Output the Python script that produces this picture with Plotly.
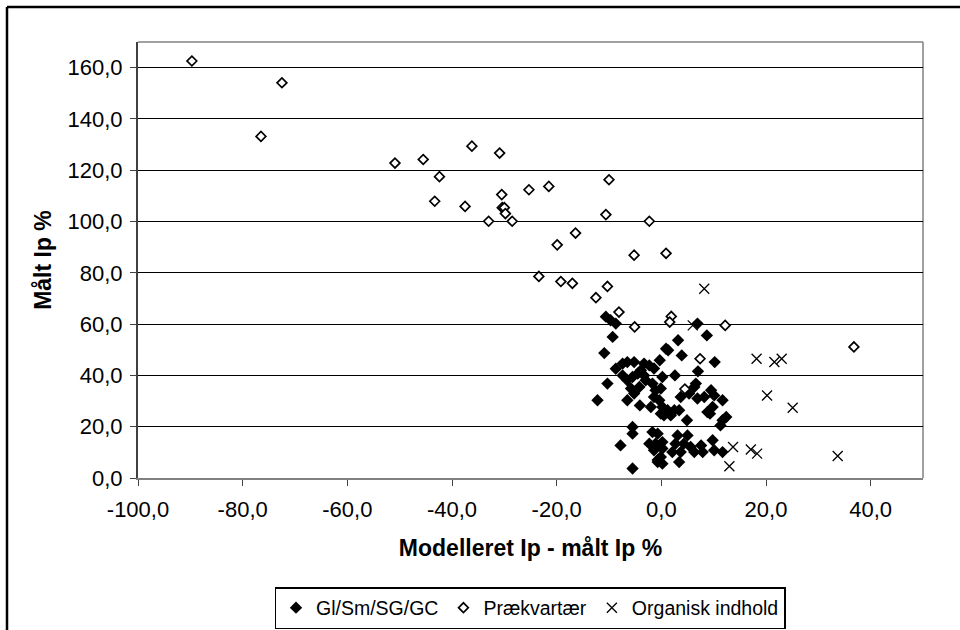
import plotly.graph_objects as go

# ---------------- data ----------------
gl_x = [-10.6, -9.7, -8.7, 6.9, -9.3, 8.7, 3.2, -10.9, 1.3, 0.9, 3.9, -0.3, 10.2, 7.0,
        -8.7, -7.4, -6.5, -5.2, -3.3, -2.3, -3.9, -1.4,
        -10.3, -12.2,
        -7.4, -6.5, -5.5, -4.5, -3.3, -3.0, 0.2, 2.6,
        -5.8, -5.2, -4.2, -6.5, -4.1,
        -1.7, -1.1, -0.1, -1.4, -0.4, 0.2, 1.2, 0.5, 1.8, 2.5, 3.4, -2.0, -0.1,
        4.9, 3.7, 5.3, 6.3, 6.9, 6.6,
        8.2, 9.5, 10.1, 11.7, 9.8, 8.8, 11.7, 12.4, 11.3, 9.3,
        -5.5, -5.5, -7.8, -5.5,
        -1.7, -0.7, -2.3, -1.1, 0.2, -1.4, 0.2, -0.7, 0.2, -0.1, 3.1, 5.0, 2.7, 4.3,
        5.6, 7.6, 6.3, 7.9, 3.4, 9.8, 10.1, 11.7, 2.1, 3.7, -0.7]
gl_y = [62.9, 61.5, 60.2, 60.2, 55.0, 55.6, 53.7, 48.7, 49.8, 50.4, 47.8, 45.9, 45.2, 41.6,
        42.6, 44.6, 45.2, 45.2, 44.6, 43.9, 42.0, 42.7,
        36.8, 30.3,
        40.0, 38.1, 39.4, 40.7, 40.0, 38.1, 39.4, 40.0,
        34.9, 32.9, 35.5, 30.3, 28.3,
        36.8, 34.2, 34.9, 31.6, 30.3, 27.7, 26.4, 24.4, 24.4, 26.4, 26.4, 27.7, 25.1,
        22.5, 31.6, 32.9, 35.5, 31.0, 36.8,
        31.6, 34.2, 32.2, 30.3, 27.7, 25.7, 22.5, 23.8, 20.5, 25.1,
        19.9, 17.3, 12.7, 3.7,
        17.9, 17.3, 13.4, 13.4, 14.0, 10.8, 11.5, 6.2, 5.6, 8.2, 16.6, 16.6, 13.4, 13.4,
        12.1, 12.7, 10.1, 10.1, 6.2, 14.7, 10.8, 10.1, 10.1, 10.1, 7.0]

pk_x = [-89.7, -72.5, -76.5, -50.9, -45.5, -36.2, -30.9, -42.4, -43.3, -37.5, -30.5,
        -30.4, -30.0, -29.8, -33.0, -28.5, -25.3, -21.5, -10.0, -10.6, -2.3, -16.4,
        -19.9, -5.2, 0.9, -23.4, -19.2, -17.0, -10.3, -12.5, -8.1, -5.1, 1.9, 1.6,
        12.2, 7.4, 4.5, 36.8]
pk_y = [162.6, 154.1, 133.2, 122.8, 124.2, 129.4, 126.7, 117.5, 107.9, 105.9, 110.5,
        105.4, 105.4, 103.1, 100.1, 100.1, 112.4, 113.7, 116.3, 102.7, 100.1, 95.5,
        90.9, 86.9, 87.6, 78.6, 76.6, 75.9, 74.7, 70.3, 64.7, 58.9, 63.0, 60.8,
        59.5, 46.5, 34.7, 51.1]

org_x = [8.2, 6.0, 18.2, 21.6, 23.0, 20.2, 25.1, 13.7, 17.1, 18.3, 13.0, 33.7]
org_y = [73.8, 59.5, 46.5, 45.2, 46.5, 32.2, 27.4, 12.1, 11.1, 9.5, 4.6, 8.6]

series_names = ["Gl/Sm/SG/GC", "Prækvartær", "Organisk indhold"]

x_tick_vals = [-100, -80, -60, -40, -20, 0, 20, 40]
x_tick_text = ["-100,0", "-80,0", "-60,0", "-40,0", "-20,0", "0,0", "20,0", "40,0"]
y_tick_vals = [0, 20, 40, 60, 80, 100, 120, 140, 160]
y_tick_text = ["0,0", "20,0", "40,0", "60,0", "80,0", "100,0", "120,0", "140,0", "160,0"]

x_title = "Modelleret Ip - målt Ip %"
y_title = "Målt Ip %"

# ---------------- figure ----------------
W, H = 960, 630
L, R, T, B = 138, 37, 42, 152
PW, PH = W - L - R, H - T - B
FONT = "Arial, 'Liberation Sans', sans-serif"

fig = go.Figure()
fig.add_trace(go.Scatter(
    x=gl_x, y=gl_y, mode="markers", name=series_names[0],
    marker=dict(symbol="diamond", size=9.5, color="black", line=dict(width=0))))
fig.add_trace(go.Scatter(
    x=pk_x, y=pk_y, mode="markers", name=series_names[1],
    marker=dict(symbol="diamond", size=7.5, color="white",
                line=dict(color="black", width=1.7))))
fig.add_trace(go.Scatter(
    x=org_x, y=org_y, mode="markers", name=series_names[2],
    marker=dict(symbol="x-thin", size=10, color="black",
                line=dict(color="black", width=1.3))))

# outer chart border (left and top edges visible in the window)
bx = (7 - L) / PW
by = 1 + (T - 7) / PH
shapes = [
    dict(type="line", xref="paper", yref="paper", x0=bx, x1=bx, y0=-1, y1=by,
         line=dict(color="black", width=2.5)),
    dict(type="line", xref="paper", yref="paper", x0=bx, x1=2, y0=by, y1=by,
         line=dict(color="black", width=2.5)),
    # plot-area border (top and right)
    dict(type="line", xref="paper", yref="paper", x0=0, x1=1, y0=1, y1=1,
         line=dict(color="#808080", width=1.5), layer="below"),
    dict(type="line", xref="paper", yref="paper", x0=1, x1=1, y0=0, y1=1,
         line=dict(color="#808080", width=1.5), layer="below"),
]

fig.update_layout(
    width=W, height=H,
    margin=dict(l=L, r=R, t=T, b=B, pad=0, autoexpand=False),
    paper_bgcolor="white", plot_bgcolor="white",
    font=dict(family=FONT, size=22, color="black"),
    showlegend=True,
    legend=dict(orientation="h", xref="container", yref="container",
                x=530 / W, xanchor="center",
                y=(H - 587) / H, yanchor="top",
                bordercolor="black", borderwidth=1.5,
                font=dict(family=FONT, size=19.5, color="black"),
                bgcolor="white"),
    shapes=shapes,
    xaxis=dict(range=[-100, 50], tickmode="array", tickvals=x_tick_vals,
               ticktext=x_tick_text, ticks="outside", ticklen=6,
               tickcolor="#404040", tickwidth=1.2, showgrid=False,
               zeroline=False, showline=True, linecolor="#808080", linewidth=1.5,
               ticklabelstandoff=5, automargin=False,
               title=dict(text=x_title, font=dict(family=FONT, size=23, color="black",
                                                  weight="bold"), standoff=19)),
    yaxis=dict(range=[0, 170], tickmode="array", tickvals=y_tick_vals,
               ticktext=y_tick_text, ticks="outside", ticklen=6,
               tickcolor="#404040", tickwidth=1.2, showgrid=True,
               gridcolor="black", gridwidth=1, zeroline=False, showline=True,
               linecolor="#404040", linewidth=2, ticklabelstandoff=3, automargin=False,
               title=dict(text=y_title, font=dict(family=FONT, size=23, color="black",
                                                  weight="bold"), standoff=9)),
)

fig.write_html(
    "out.html",
    config={"displayModeBar": False},
    post_script="document.body.style.margin='0';document.body.style.overflow='hidden';",
)
